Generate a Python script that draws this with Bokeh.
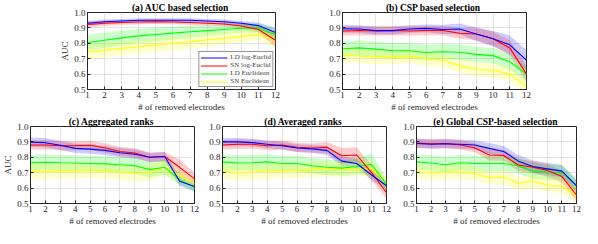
from bokeh.plotting import figure
from bokeh.layouts import column, row
from bokeh.models import Range1d, FixedTicker, PrintfTickFormatter, Legend, LegendItem
from bokeh.embed import file_html
from bokeh.resources import INLINE

x_vals = [1, 2, 3, 4, 5, 6, 7, 8, 9, 10, 11, 12]
series_names = ["LD log-Euclid", "SN log-Euclid", "LD Euclidean", "SN Euclidean"]
series_colors = ["#0000FF", "#FF0000", "#00FF00", "#FFFF00"]
y_ticks = [0.5, 0.6, 0.7, 0.8, 0.9, 1.0]

# (a) AUC based selection
a_ld_log = [0.930, 0.940, 0.945, 0.950, 0.950, 0.950, 0.950, 0.945, 0.940, 0.930, 0.915, 0.870]
a_sn_log = [0.922, 0.930, 0.935, 0.938, 0.940, 0.938, 0.935, 0.930, 0.925, 0.912, 0.890, 0.820]
a_ld_euc = [0.805, 0.820, 0.835, 0.848, 0.857, 0.866, 0.875, 0.882, 0.890, 0.898, 0.900, 0.855]
a_sn_euc = [0.742, 0.755, 0.767, 0.778, 0.790, 0.800, 0.810, 0.822, 0.833, 0.845, 0.855, 0.820]
a_ld_log_sd = [0.015, 0.015, 0.012, 0.012, 0.012, 0.012, 0.012, 0.012, 0.015, 0.015, 0.020, 0.030]
a_sn_log_sd = [0.020, 0.018, 0.015, 0.015, 0.015, 0.015, 0.015, 0.015, 0.015, 0.018, 0.020, 0.045]
a_ld_euc_sd = [0.050, 0.050, 0.048, 0.045, 0.045, 0.040, 0.040, 0.035, 0.030, 0.030, 0.030, 0.040]
a_sn_euc_sd = [0.045, 0.045, 0.045, 0.045, 0.045, 0.045, 0.045, 0.045, 0.040, 0.040, 0.035, 0.050]

# (b) CSP based selection
b_ld_log = [0.894, 0.893, 0.882, 0.882, 0.893, 0.897, 0.890, 0.893, 0.860, 0.830, 0.790, 0.690]
b_sn_log = [0.880, 0.883, 0.880, 0.883, 0.880, 0.883, 0.883, 0.865, 0.860, 0.830, 0.770, 0.600]
b_ld_euc = [0.765, 0.770, 0.762, 0.752, 0.752, 0.740, 0.745, 0.742, 0.728, 0.720, 0.680, 0.600]
b_sn_euc = [0.720, 0.718, 0.710, 0.710, 0.715, 0.700, 0.690, 0.655, 0.630, 0.625, 0.600, 0.520]
b_ld_log_sd = [0.025, 0.025, 0.025, 0.025, 0.025, 0.025, 0.030, 0.035, 0.045, 0.050, 0.060, 0.065]
b_sn_log_sd = [0.030, 0.030, 0.030, 0.030, 0.030, 0.030, 0.030, 0.035, 0.040, 0.045, 0.050, 0.050]
b_ld_euc_sd = [0.050, 0.050, 0.050, 0.050, 0.050, 0.050, 0.050, 0.050, 0.050, 0.050, 0.050, 0.050]
b_sn_euc_sd = [0.045, 0.045, 0.045, 0.045, 0.045, 0.045, 0.045, 0.045, 0.045, 0.045, 0.045, 0.045]

# (c) Aggregated ranks
c_ld_log = [0.898, 0.895, 0.878, 0.858, 0.853, 0.845, 0.830, 0.820, 0.800, 0.805, 0.645, 0.610]
c_sn_log = [0.880, 0.880, 0.875, 0.875, 0.878, 0.860, 0.838, 0.828, 0.800, 0.805, 0.735, 0.660]
c_ld_euc = [0.765, 0.768, 0.765, 0.763, 0.760, 0.757, 0.752, 0.745, 0.720, 0.735, 0.655, 0.605]
c_sn_euc = [0.710, 0.708, 0.712, 0.712, 0.718, 0.710, 0.705, 0.695, 0.700, 0.735, 0.680, 0.630]
c_ld_log_sd = [0.030, 0.030, 0.030, 0.030, 0.030, 0.030, 0.030, 0.030, 0.030, 0.030, 0.030, 0.030]
c_sn_log_sd = [0.030, 0.030, 0.030, 0.030, 0.030, 0.030, 0.030, 0.030, 0.030, 0.030, 0.050, 0.040]
c_ld_euc_sd = [0.050, 0.050, 0.050, 0.050, 0.050, 0.050, 0.050, 0.050, 0.050, 0.050, 0.030, 0.030]
c_sn_euc_sd = [0.050, 0.050, 0.050, 0.050, 0.050, 0.050, 0.050, 0.050, 0.050, 0.050, 0.040, 0.030]

# (d) Averaged ranks
d_ld_log = [0.900, 0.900, 0.895, 0.885, 0.875, 0.860, 0.855, 0.845, 0.775, 0.760, 0.685, 0.615]
d_sn_log = [0.880, 0.885, 0.885, 0.875, 0.880, 0.865, 0.860, 0.865, 0.810, 0.815, 0.700, 0.570]
d_ld_euc = [0.770, 0.763, 0.765, 0.770, 0.760, 0.760, 0.745, 0.735, 0.730, 0.740, 0.755, 0.625]
d_sn_euc = [0.710, 0.700, 0.705, 0.710, 0.715, 0.715, 0.720, 0.725, 0.720, 0.725, 0.725, 0.630]
d_ld_log_sd = [0.025, 0.025, 0.025, 0.025, 0.025, 0.025, 0.025, 0.030, 0.030, 0.030, 0.030, 0.030]
d_sn_log_sd = [0.030, 0.030, 0.030, 0.030, 0.030, 0.030, 0.030, 0.035, 0.050, 0.050, 0.050, 0.040]
d_ld_euc_sd = [0.050, 0.050, 0.050, 0.050, 0.050, 0.050, 0.050, 0.050, 0.050, 0.050, 0.070, 0.040]
d_sn_euc_sd = [0.050, 0.050, 0.050, 0.050, 0.050, 0.050, 0.050, 0.050, 0.050, 0.050, 0.050, 0.040]

# (e) Global CSP-based selection
e_ld_log = [0.890, 0.885, 0.888, 0.885, 0.880, 0.858, 0.838, 0.775, 0.740, 0.725, 0.710, 0.615]
e_sn_log = [0.892, 0.888, 0.890, 0.880, 0.862, 0.815, 0.812, 0.750, 0.735, 0.715, 0.675, 0.555]
e_ld_euc = [0.770, 0.763, 0.752, 0.765, 0.760, 0.760, 0.760, 0.745, 0.710, 0.705, 0.700, 0.620]
e_sn_euc = [0.708, 0.698, 0.703, 0.705, 0.695, 0.668, 0.672, 0.632, 0.645, 0.620, 0.610, 0.555]
e_ld_log_sd = [0.030, 0.030, 0.030, 0.030, 0.030, 0.035, 0.035, 0.040, 0.040, 0.040, 0.040, 0.040]
e_sn_log_sd = [0.030, 0.030, 0.030, 0.030, 0.030, 0.035, 0.035, 0.040, 0.040, 0.040, 0.040, 0.040]
e_ld_euc_sd = [0.050, 0.050, 0.050, 0.050, 0.050, 0.050, 0.050, 0.050, 0.050, 0.050, 0.050, 0.040]
e_sn_euc_sd = [0.045, 0.045, 0.045, 0.045, 0.045, 0.045, 0.045, 0.045, 0.045, 0.045, 0.045, 0.050]

FONT = "Liberation Serif"
AX_COLOR = "#262626"


def make_panel(title, means, sds, width, height, left, right, top, bottom,
               ylabel=None, legend=False):
    p = figure(width=width, height=height, output_backend="svg", toolbar_location=None,
               x_range=Range1d(1, 12), y_range=Range1d(0.5, 1.0),
               min_border_left=left, min_border_right=right,
               min_border_top=top, min_border_bottom=bottom)
    p.title.text = title
    p.title.align = "center"
    p.title.text_font = FONT
    p.title.text_font_size = "9.5px"
    p.title.text_font_style = "bold"
    p.title.text_color = "#000000"
    p.title.standoff = 0
    p.title.offset = 0
    p.background_fill_color = "white"
    p.border_fill_color = "white"
    p.outline_line_color = AX_COLOR
    p.outline_line_width = 1
    p.outline_line_alpha = 1

    renderers = []
    for m, s, c in zip(means, sds, series_colors):
        lo = [a - b for a, b in zip(m, s)]
        hi = [a + b for a, b in zip(m, s)]
        p.varea(x=x_vals, y1=lo, y2=hi, fill_color=c, fill_alpha=0.2)
    for m, c in list(zip(means, series_colors))[::-1]:
        r = p.line(x_vals, m, line_color=c, line_width=1.1)
        renderers.append(r)
    renderers = renderers[::-1]

    p.xaxis.ticker = FixedTicker(ticks=x_vals)
    p.yaxis.ticker = FixedTicker(ticks=y_ticks)
    p.yaxis.formatter = PrintfTickFormatter(format="%.1f")
    for ax in (p.xaxis[0], p.yaxis[0]):
        ax.major_tick_in = 3
        ax.major_tick_out = 0
        ax.minor_tick_in = 0
        ax.minor_tick_out = 0
        ax.axis_line_color = AX_COLOR
        ax.major_tick_line_color = AX_COLOR
        ax.major_label_text_font = FONT
        ax.major_label_text_font_size = "9px"
        ax.major_label_text_color = "#262626"
        ax.major_label_standoff = 2
        ax.axis_label_text_font = FONT
        ax.axis_label_text_font_size = "9px"
        ax.axis_label_text_font_style = "normal"
        ax.axis_label_text_color = "#262626"
        ax.axis_label_standoff = 1
    p.xaxis.axis_label = "# of removed electrodes"
    if ylabel:
        p.yaxis.axis_label = ylabel
    p.grid.grid_line_color = "#e3e3e3"
    p.grid.grid_line_width = 1

    if legend:
        items = [LegendItem(label=n, renderers=[r]) for n, r in zip(series_names, renderers)]
        lg = Legend(items=items, location="bottom_right")
        lg.label_text_font = FONT
        lg.label_text_font_size = "7px"
        lg.label_height = 7
        lg.glyph_height = 7
        lg.glyph_width = 27
        lg.spacing = 0
        lg.padding = 1
        lg.margin = 2
        lg.label_standoff = 3
        lg.border_line_color = AX_COLOR
        lg.border_line_width = 1
        lg.background_fill_alpha = 1
        p.add_layout(lg)
    return p


ROW_H = 114
pa = make_panel("(a)  AUC based selection",
                [a_ld_log, a_sn_log, a_ld_euc, a_sn_euc],
                [a_ld_log_sd, a_sn_log_sd, a_ld_euc_sd, a_sn_euc_sd],
                285, ROW_H, 87, 10, 12, 23, ylabel="AUC", legend=True)
pb = make_panel("(b)  CSP based selection",
                [b_ld_log, b_sn_log, b_ld_euc, b_sn_euc],
                [b_ld_log_sd, b_sn_log_sd, b_ld_euc_sd, b_sn_euc_sd],
                297, ROW_H, 57, 56, 12, 23)
pc = make_panel("(c)  Aggregated ranks",
                [c_ld_log, c_sn_log, c_ld_euc, c_sn_euc],
                [c_ld_log_sd, c_sn_log_sd, c_ld_euc_sd, c_sn_euc_sd],
                206, ROW_H, 25, 12, 12, 23, ylabel="AUC")
pd_ = make_panel("(d)  Averaged ranks",
                 [d_ld_log, d_sn_log, d_ld_euc, d_sn_euc],
                 [d_ld_log_sd, d_sn_log_sd, d_ld_euc_sd, d_sn_euc_sd],
                 194, ROW_H, 15, 14, 12, 23)
pe = make_panel("(e)  Global CSP-based selection",
                [e_ld_log, e_sn_log, e_ld_euc, e_sn_euc],
                [e_ld_log_sd, e_sn_log_sd, e_ld_euc_sd, e_sn_euc_sd],
                182, ROW_H, 14, 6, 12, 23)

layout = column(row(pa, pb), row(pc, pd_, pe))
open("out.html", "w").write(file_html(layout, INLINE))
